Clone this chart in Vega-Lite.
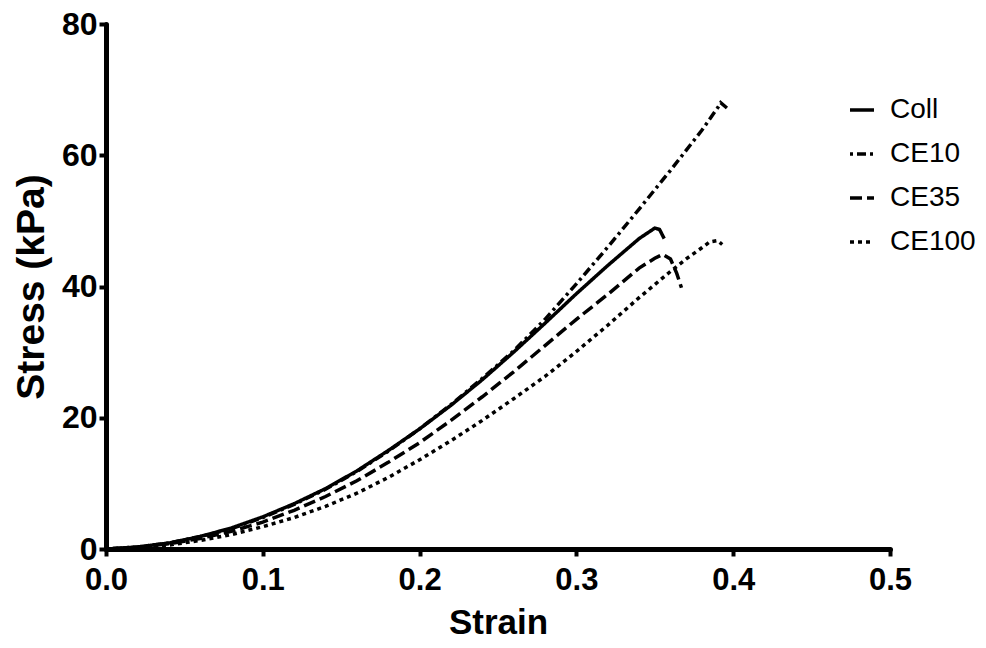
{
  "$schema": "https://vega.github.io/schema/vega-lite/v6.json",
  "width": 784,
  "height": 525,
  "autosize": {"type": "none"},
  "padding": {"left": 106, "top": 24, "right": 96, "bottom": 99},
  "background": "white",
  "config": {
    "view": {"stroke": null},
    "font": "Liberation Sans"
  },
  "data": {
    "values": [
      {"series": "Coll", "strain": 0.0, "stress": 0.0},
      {"series": "Coll", "strain": 0.02, "stress": 0.3},
      {"series": "Coll", "strain": 0.04, "stress": 0.9},
      {"series": "Coll", "strain": 0.06, "stress": 1.9},
      {"series": "Coll", "strain": 0.08, "stress": 3.2},
      {"series": "Coll", "strain": 0.10, "stress": 4.9},
      {"series": "Coll", "strain": 0.12, "stress": 6.9},
      {"series": "Coll", "strain": 0.14, "stress": 9.2},
      {"series": "Coll", "strain": 0.16, "stress": 11.9},
      {"series": "Coll", "strain": 0.18, "stress": 15.0},
      {"series": "Coll", "strain": 0.20, "stress": 18.3},
      {"series": "Coll", "strain": 0.22, "stress": 21.9},
      {"series": "Coll", "strain": 0.24, "stress": 25.8},
      {"series": "Coll", "strain": 0.26, "stress": 30.0},
      {"series": "Coll", "strain": 0.28, "stress": 34.4},
      {"series": "Coll", "strain": 0.30, "stress": 38.9},
      {"series": "Coll", "strain": 0.32, "stress": 43.2},
      {"series": "Coll", "strain": 0.34, "stress": 47.3},
      {"series": "Coll", "strain": 0.35, "stress": 48.9},
      {"series": "Coll", "strain": 0.353, "stress": 48.7},
      {"series": "Coll", "strain": 0.356, "stress": 47.3},
      {"series": "CE10", "strain": 0.0, "stress": 0.0},
      {"series": "CE10", "strain": 0.02, "stress": 0.3},
      {"series": "CE10", "strain": 0.04, "stress": 0.9},
      {"series": "CE10", "strain": 0.06, "stress": 1.9},
      {"series": "CE10", "strain": 0.08, "stress": 3.1},
      {"series": "CE10", "strain": 0.10, "stress": 4.8},
      {"series": "CE10", "strain": 0.12, "stress": 6.8},
      {"series": "CE10", "strain": 0.14, "stress": 9.1},
      {"series": "CE10", "strain": 0.16, "stress": 11.8},
      {"series": "CE10", "strain": 0.18, "stress": 14.9},
      {"series": "CE10", "strain": 0.20, "stress": 18.3},
      {"series": "CE10", "strain": 0.22, "stress": 22.0},
      {"series": "CE10", "strain": 0.24, "stress": 26.0},
      {"series": "CE10", "strain": 0.26, "stress": 30.2},
      {"series": "CE10", "strain": 0.28, "stress": 35.0},
      {"series": "CE10", "strain": 0.30, "stress": 40.4},
      {"series": "CE10", "strain": 0.32, "stress": 46.0},
      {"series": "CE10", "strain": 0.34, "stress": 51.8},
      {"series": "CE10", "strain": 0.36, "stress": 57.7},
      {"series": "CE10", "strain": 0.38, "stress": 63.8},
      {"series": "CE10", "strain": 0.39, "stress": 67.2},
      {"series": "CE10", "strain": 0.392, "stress": 68.0},
      {"series": "CE10", "strain": 0.396, "stress": 67.2},
      {"series": "CE35", "strain": 0.0, "stress": 0.0},
      {"series": "CE35", "strain": 0.02, "stress": 0.25},
      {"series": "CE35", "strain": 0.04, "stress": 0.8},
      {"series": "CE35", "strain": 0.06, "stress": 1.6},
      {"series": "CE35", "strain": 0.08, "stress": 2.7},
      {"series": "CE35", "strain": 0.10, "stress": 4.1},
      {"series": "CE35", "strain": 0.12, "stress": 5.9},
      {"series": "CE35", "strain": 0.14, "stress": 8.0},
      {"series": "CE35", "strain": 0.16, "stress": 10.4},
      {"series": "CE35", "strain": 0.18, "stress": 13.2},
      {"series": "CE35", "strain": 0.20, "stress": 16.2},
      {"series": "CE35", "strain": 0.22, "stress": 19.6},
      {"series": "CE35", "strain": 0.24, "stress": 23.2},
      {"series": "CE35", "strain": 0.26, "stress": 27.0},
      {"series": "CE35", "strain": 0.28, "stress": 31.0},
      {"series": "CE35", "strain": 0.30, "stress": 35.0},
      {"series": "CE35", "strain": 0.32, "stress": 38.8},
      {"series": "CE35", "strain": 0.34, "stress": 42.8},
      {"series": "CE35", "strain": 0.35, "stress": 44.3},
      {"series": "CE35", "strain": 0.355, "stress": 44.9},
      {"series": "CE35", "strain": 0.36, "stress": 44.2},
      {"series": "CE35", "strain": 0.364, "stress": 42.0},
      {"series": "CE35", "strain": 0.367, "stress": 39.8},
      {"series": "CE100", "strain": 0.0, "stress": 0.0},
      {"series": "CE100", "strain": 0.02, "stress": 0.2},
      {"series": "CE100", "strain": 0.04, "stress": 0.6},
      {"series": "CE100", "strain": 0.06, "stress": 1.3},
      {"series": "CE100", "strain": 0.08, "stress": 2.2},
      {"series": "CE100", "strain": 0.10, "stress": 3.4},
      {"series": "CE100", "strain": 0.12, "stress": 4.8},
      {"series": "CE100", "strain": 0.14, "stress": 6.5},
      {"series": "CE100", "strain": 0.16, "stress": 8.5},
      {"series": "CE100", "strain": 0.18, "stress": 10.9},
      {"series": "CE100", "strain": 0.20, "stress": 13.6},
      {"series": "CE100", "strain": 0.22, "stress": 16.5},
      {"series": "CE100", "strain": 0.24, "stress": 19.6},
      {"series": "CE100", "strain": 0.26, "stress": 22.9},
      {"series": "CE100", "strain": 0.28, "stress": 26.3},
      {"series": "CE100", "strain": 0.30, "stress": 30.1},
      {"series": "CE100", "strain": 0.32, "stress": 34.1},
      {"series": "CE100", "strain": 0.34, "stress": 38.3},
      {"series": "CE100", "strain": 0.36, "stress": 42.3},
      {"series": "CE100", "strain": 0.37, "stress": 44.2},
      {"series": "CE100", "strain": 0.38, "stress": 45.9},
      {"series": "CE100", "strain": 0.385, "stress": 46.8},
      {"series": "CE100", "strain": 0.39, "stress": 47.0},
      {"series": "CE100", "strain": 0.393, "stress": 46.4}
    ]
  },
  "mark": {"type": "line", "color": "black", "strokeWidth": 3.5, "strokeCap": "butt"},
  "encoding": {
    "x": {
      "field": "strain",
      "type": "quantitative",
      "scale": {"domain": [0, 0.5], "nice": false, "zero": true},
      "axis": {
        "title": "Strain",
        "values": [0, 0.1, 0.2, 0.3, 0.4, 0.5],
        "format": ".1f",
        "grid": false,
        "domainColor": "black",
        "domainWidth": 5,
        "domainCap": "round",
        "tickColor": "black",
        "tickWidth": 4,
        "tickSize": 7,
        "labelFontSize": 31,
        "labelFontWeight": "bold",
        "labelColor": "black",
        "labelPadding": 9,
        "labelFlush": false,
        "titleFontSize": 35,
        "titleFontWeight": "bold",
        "titleColor": "black",
        "titlePadding": 10
      }
    },
    "y": {
      "field": "stress",
      "type": "quantitative",
      "scale": {"domain": [0, 80], "nice": false},
      "axis": {
        "title": "Stress (kPa)",
        "values": [0, 20, 40, 60, 80],
        "grid": false,
        "domainColor": "black",
        "domainWidth": 5,
        "domainCap": "round",
        "tickColor": "black",
        "tickWidth": 4,
        "tickSize": 7,
        "labelFontSize": 32,
        "labelFontWeight": "bold",
        "labelColor": "black",
        "labelPadding": 2,
        "labelFlush": false,
        "titleFontSize": 39,
        "titleFontWeight": "bold",
        "titleColor": "black",
        "titlePadding": 10
      }
    },
    "strokeDash": {
      "field": "series",
      "type": "nominal",
      "scale": {
        "domain": ["Coll", "CE10", "CE35", "CE100"],
        "range": [[1, 0], [3, 4, 9, 4], [12, 5], [4, 4]]
      },
      "legend": {
        "title": null,
        "orient": "none",
        "legendX": 742,
        "legendY": 72,
        "symbolType": "stroke",
        "symbolSize": 576,
        "symbolStrokeWidth": 3.5,
        "symbolStrokeColor": "black",
        "labelFontSize": 28,
        "labelColor": "black",
        "labelOffset": 14,
        "rowPadding": 16,
        "labelFont": "Liberation Sans"
      }
    },
    "detail": {"field": "series", "type": "nominal"}
  }
}
